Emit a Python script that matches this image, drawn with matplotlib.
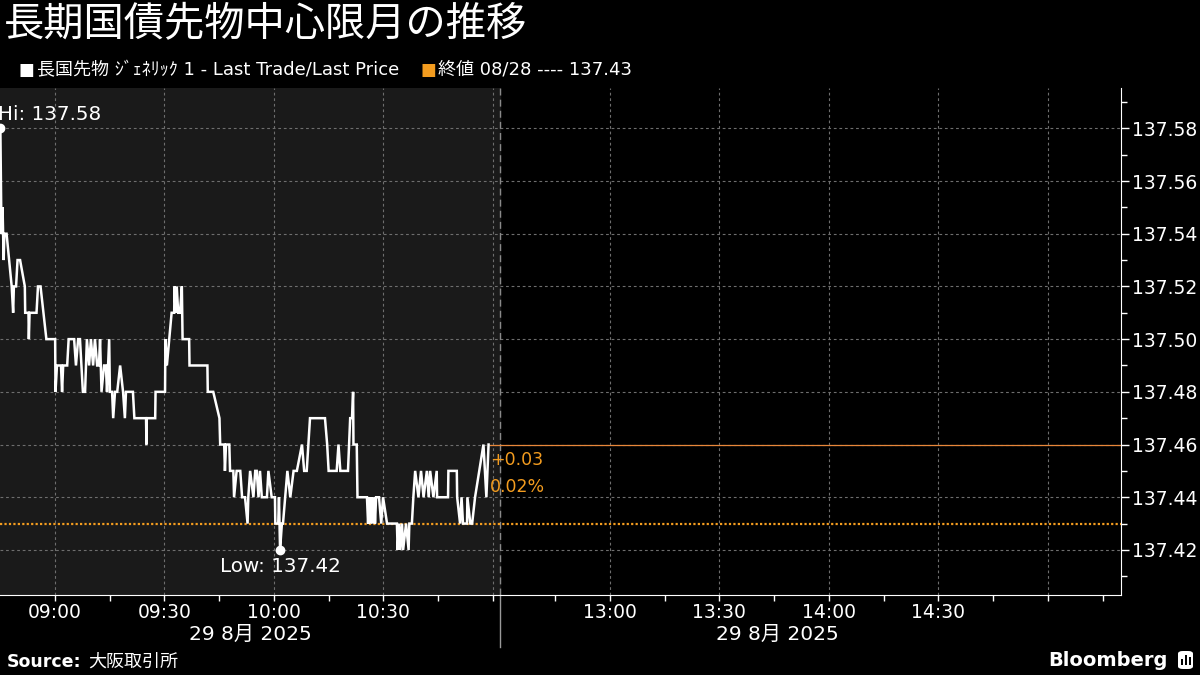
import matplotlib
matplotlib.use("Agg")
import matplotlib.pyplot as plt
from matplotlib.patches import FancyBboxPatch

plt.rcParams['font.family'] = ['DejaVu Sans', 'Noto Sans CJK JP']

# minutes since 08:45 (day session open)
t_min = [0.1, 0.4, 0.7, 1.0, 1.2, 1.8, 3.2, 3.6, 3.8, 4.4, 4.8, 5.5, 6.8, 6.9, 7.8, 7.9, 8.1,
         10.0, 10.4, 11.1, 12.7, 15.1, 15.2, 15.6, 16.7, 17.0, 17.3, 18.4, 18.8, 19.7, 20.3,
         20.8, 21.4, 21.9, 22.7, 23.3, 23.8, 24.4, 24.9, 25.5, 26.0, 26.6, 27.1, 27.4, 27.8,
         28.5, 29.0, 29.3, 29.9, 30.1, 30.7, 31.0, 31.5, 32.1, 32.9, 33.7, 34.2, 34.5, 36.4,
         36.8, 40.0, 40.1, 40.2, 42.5, 42.6, 45.2, 45.3, 45.7, 47.0, 47.7, 47.8, 48.1, 48.4,
         48.8, 49.3, 49.8, 50.0, 51.8, 51.9, 56.8, 56.9, 58.4, 60.1, 60.3, 61.4, 61.6, 61.9,
         62.8, 63.0, 63.9, 64.1, 64.8, 65.8, 66.3, 67.1, 67.8, 68.0, 68.5, 69.4, 69.9, 70.3,
         70.8, 71.2, 71.7, 73.1, 73.5, 74.4, 75.3, 75.4, 76.2, 76.4, 76.7, 77.2, 77.5, 78.1,
         78.7, 79.5, 80.4, 81.3, 82.7, 83.3, 84.0, 84.9, 89.0, 89.6, 90.0, 92.2, 92.7, 93.2,
         95.3, 95.9, 96.4, 96.7, 96.8, 97.7, 97.9, 100.5, 100.8, 101.1, 101.4, 101.8, 102.0,
         102.5, 102.7, 103.0, 103.8, 104.4, 104.9, 106.0, 108.7, 108.9, 109.3, 109.6, 110.1,
         110.4, 111.2, 111.9, 112.1, 112.8, 113.2, 113.7, 114.6, 115.3, 116.0, 116.9, 117.4,
         117.8, 118.7, 119.6, 119.7, 122.7, 122.8, 125.1, 125.2, 126.0, 126.4, 126.8, 127.9,
         128.0, 128.8, 129.3, 130.1, 132.4, 133.2, 133.8]
price = [137.58, 137.54, 137.55, 137.53, 137.54, 137.54, 137.52, 137.51, 137.52, 137.52,
         137.53, 137.53, 137.52, 137.51, 137.51, 137.50, 137.51, 137.51, 137.52, 137.52,
         137.50, 137.50, 137.48, 137.49, 137.49, 137.48, 137.49, 137.49, 137.50, 137.50,
         137.50, 137.49, 137.50, 137.50, 137.48, 137.48, 137.50, 137.49, 137.50, 137.49,
         137.50, 137.49, 137.49, 137.50, 137.48, 137.49, 137.49, 137.48, 137.50, 137.48,
         137.48, 137.47, 137.48, 137.48, 137.49, 137.48, 137.47, 137.48, 137.48, 137.47,
         137.47, 137.46, 137.47, 137.47, 137.48, 137.48, 137.50, 137.49, 137.51, 137.51,
         137.52, 137.51, 137.52, 137.51, 137.51, 137.52, 137.50, 137.50, 137.49, 137.49,
         137.48, 137.48, 137.47, 137.46, 137.46, 137.45, 137.46, 137.46, 137.45, 137.45,
         137.44, 137.45, 137.45, 137.44, 137.44, 137.43, 137.44, 137.45, 137.44, 137.45,
         137.45, 137.44, 137.45, 137.44, 137.44, 137.45, 137.44, 137.44, 137.43, 137.43,
         137.44, 137.42, 137.43, 137.43, 137.44, 137.45, 137.44, 137.45, 137.45, 137.46,
         137.45, 137.45, 137.47, 137.47, 137.46, 137.45, 137.45, 137.46, 137.45, 137.45,
         137.47, 137.47, 137.48, 137.46, 137.46, 137.44, 137.44, 137.43, 137.44, 137.43,
         137.44, 137.43, 137.44, 137.43, 137.44, 137.44, 137.43, 137.44, 137.43, 137.43,
         137.42, 137.43, 137.42, 137.43, 137.42, 137.43, 137.42, 137.43, 137.43, 137.44,
         137.45, 137.44, 137.45, 137.44, 137.45, 137.44, 137.45, 137.44, 137.45, 137.44,
         137.44, 137.45, 137.45, 137.44, 137.43, 137.44, 137.43, 137.43, 137.44, 137.43,
         137.43, 137.44, 137.46, 137.44, 137.46]

prev_close = 137.43
y_ticks = [137.42, 137.44, 137.46, 137.48, 137.50, 137.52, 137.54, 137.56, 137.58]
tick_times = ["09:00", "09:15", "09:30", "09:45", "10:00", "10:15", "10:30", "10:45", "11:00",
              "12:45", "13:00", "13:15", "13:30", "13:45", "14:00", "14:15", "14:30", "14:45",
              "15:00", "15:15"]
label_times = ["09:00", "09:30", "10:00", "10:30", "13:00", "13:30", "14:00", "14:30"]
grid_times = ["09:00", "09:30", "10:00", "10:30", "11:00", "13:00", "13:30", "14:00", "14:30", "15:00"]
date_label = "29 8月 2025"

AM_LEN = 137  # 08:45 - 11:02, then afternoon starts 12:30


def pos(hhmm):
    h, m = map(int, hhmm.split(":"))
    mins = h * 60 + m
    if mins < 12 * 60:
        return mins - (8 * 60 + 45)
    return AM_LEN + mins - (12 * 60 + 30)


orange = '#f39c1f'
grid_c = '#6e6e6e'

fig = plt.figure(figsize=(12, 6.75), dpi=100, facecolor='black')
ax = fig.add_axes([0, 1 - 595 / 675, 1121 / 1200, 507 / 675])
ax.set_facecolor('black')
ax.set_xlim(0, 307)
ax.set_ylim(137.4029, 137.5953)

ax.axvspan(0, AM_LEN, color='#1a1a1a', zorder=0)

for g in grid_times:
    ax.axvline(pos(g), color=grid_c, lw=0.8, ls=(0, (2.5, 2.5)), zorder=1)
for yv in y_ticks:
    ax.axhline(yv, color=grid_c, lw=0.8, ls=(0, (2.5, 2.5)), zorder=1)
ax.axvline(AM_LEN, color='#8a8a8a', lw=1.0, ls=(0, (5, 3)), zorder=1)
ax.plot([AM_LEN, AM_LEN], [0, -0.103], transform=ax.get_xaxis_transform(),
        color='#9a9a9a', lw=1, clip_on=False)

ax.axhline(prev_close, color=orange, lw=1.6, ls=(0, (1, 1)), zorder=2)
last = price[-1]
ax.hlines(last, t_min[-1], 307, color='#e8873a', lw=0.9, zorder=2)

ax.plot(t_min, price, color='white', lw=1.8, zorder=3, solid_joinstyle='miter')

hi = max(price)
lo = min(price)
t_hi = t_min[price.index(hi)]
t_lo = t_min[price.index(lo)]
ax.plot([t_hi], [hi], 'o', color='white', ms=6, clip_on=False, zorder=4)
ax.plot([t_lo], [lo], 'o', color='white', ms=6, clip_on=False, zorder=4)
ax.annotate(f"Hi: {hi:.2f}", (t_hi, hi), xytext=(-2, 3), textcoords='offset points',
            color='white', fontsize=14.3, ha='left', va='bottom')
ax.annotate(f"Low: {lo:.2f}", (t_lo, lo), xytext=(0, -5), textcoords='offset points',
            color='white', fontsize=14.3, ha='center', va='top')

chg = last - prev_close
ax.annotate(f"+{chg:.2f}", (t_min[-1], last), xytext=(1, -5), textcoords='offset points',
            color=orange, fontsize=12.5, ha='left', va='top')
ax.annotate(f"{chg / prev_close * 100:.2f}%", (t_min[-1], last), xytext=(1, -24),
            textcoords='offset points', color=orange, fontsize=12.5, ha='left', va='top')

# axes styling
for s in ['top', 'left']:
    ax.spines[s].set_visible(False)
ax.spines['right'].set_color('white')
ax.spines['bottom'].set_color('white')
ax.yaxis.tick_right()
ax.set_yticks(y_ticks)
ax.set_yticklabels([f"{v:.2f}" for v in y_ticks])
ax.set_yticks([v + 0.01 for v in y_ticks] + [137.41], minor=True)
ax.tick_params(axis='y', which='major', colors='white', labelsize=13.5, length=6, width=1, pad=2)
ax.tick_params(axis='y', which='minor', colors='white', length=4, width=1)
ax.set_xticks([pos(t) for t in tick_times])
ax.set_xticklabels([t if t in label_times else "" for t in tick_times])
ax.tick_params(axis='x', colors='white', labelsize=13.5, length=4, width=1, pad=1.5)

am_mid = AM_LEN / 2
pm_mid = AM_LEN + (pos("15:02") - AM_LEN) / 2
for xm in (am_mid, pm_mid):
    ax.text(xm, -0.077, date_label, transform=ax.get_xaxis_transform(),
            color='white', fontsize=14.5, ha='center', va='center')

# title, legend, footer
fig.text(4 / 1200, 1 - 25 / 675, "長期国債先物中心限月の推移", color='white', fontsize=29,
         ha='left', va='center')
fig.text(18 / 1200, 1 - 70 / 675, "■", color='white', fontsize=12, ha='left', va='center')
fig.text(37 / 1200, 1 - 70 / 675, "長国先物 ｼﾞｪﾈﾘｯｸ 1 - Last Trade/Last Price", color='white',
         fontsize=13, ha='left', va='center')
fig.text(421 / 1200, 1 - 70 / 675, "■", color=orange, fontsize=12, ha='left', va='center')
fig.text(438 / 1200, 1 - 70 / 675, f"終値 08/28 ---- {prev_close:.2f}", color='white',
         fontsize=13, ha='left', va='center')

fig.text(7 / 1200, 1 - 662 / 675, "Source:", color='white', fontsize=12.5, fontweight='bold',
         ha='left', va='center')
fig.text(88 / 1200, 1 - 662 / 675, "大阪取引所", color='white', fontsize=13,
         ha='left', va='center')
fig.text(1168 / 1200, 1 - 660 / 675, "Bloomberg", color='white', fontsize=14,
         fontweight='bold', ha='right', va='center')
fig.patches.append(FancyBboxPatch((1178 / 1200, 1 - 669 / 675), 15 / 1200, 18 / 675,
                                  boxstyle="round,pad=0,rounding_size=0.004",
                                  transform=fig.transFigure, facecolor='white',
                                  edgecolor='none'))
for i, hgt in enumerate([6, 10, 8]):
    fig.patches.append(plt.Rectangle(((1181 + i * 4) / 1200, 1 - 665 / 675), 2 / 1200,
                                     hgt / 675, transform=fig.transFigure,
                                     facecolor='black', edgecolor='none'))

fig.savefig("out.png", dpi=100, facecolor='black')
